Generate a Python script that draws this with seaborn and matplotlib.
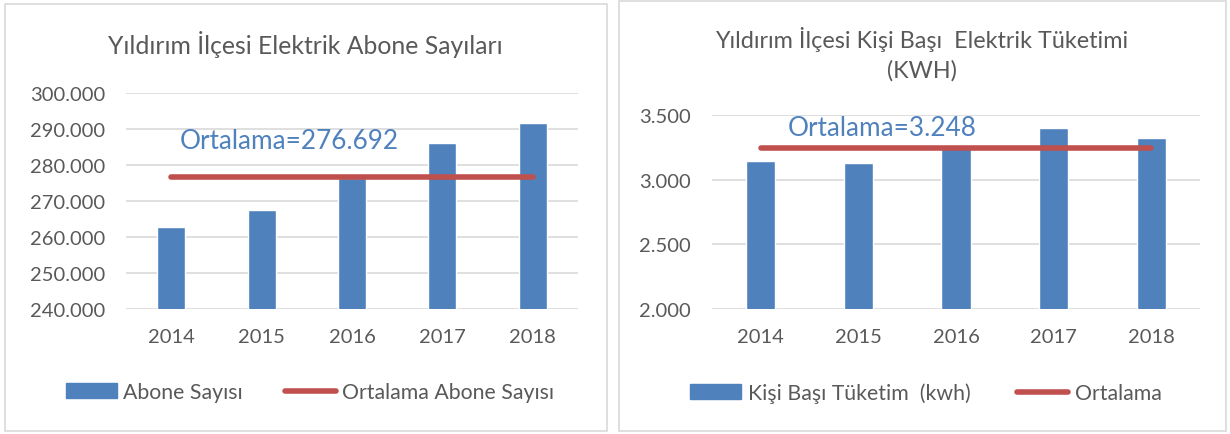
import seaborn as sns
import matplotlib.pyplot as plt
import numpy as np
from matplotlib.patches import Patch, Rectangle
from matplotlib.lines import Line2D
from matplotlib.ticker import FuncFormatter

# Values
years = ['2014', '2015', '2016', '2017', '2018']
abone = [262900, 267500, 276300, 286100, 291750]
abone_avg = [276692, 276692, 276692, 276692, 276692]
tuketim = [3147, 3129, 3247, 3397, 3320]
tuketim_avg = [3248, 3248, 3248, 3248, 3248]

BLUE = '#4F81BD'
RED = '#C0504D'
GRID = '#D9D9D9'
TXT = '#595959'

sns.set_style("white")
plt.rcParams['font.family'] = ['Lato', 'DejaVu Sans']

fig = plt.figure(figsize=(12.3, 4.35), dpi=100)
W, H = 1230, 435


def px_axes(x0, x1, ytop, ybot):
    return fig.add_axes([x0 / W, 1 - ybot / H, (x1 - x0) / W, (ybot - ytop) / H])


def dotted(v, pos):
    return f"{v:,.0f}".replace(',', '.')


def style(ax, lo, hi, step):
    ax.set_ylim(lo, hi)
    ax.set_xlim(-0.5, 4.5)
    ax.set_yticks(np.arange(lo, hi + step / 2, step))
    ax.yaxis.set_major_formatter(FuncFormatter(dotted))
    ax.grid(axis='y', color=GRID, linewidth=1.2)
    ax.set_axisbelow(True)
    for s in ax.spines.values():
        s.set_visible(False)
    ax.tick_params(axis='y', length=0, pad=15, labelsize=14.5, labelcolor=TXT)
    ax.tick_params(axis='x', length=0, pad=14, labelsize=14.5, labelcolor=TXT)
    ax.set_xlabel('')
    ax.set_ylabel('')


# panel borders
fig.patches.append(Rectangle((5 / W, 3 / H), 602 / W, 427 / H, transform=fig.transFigure,
                             fill=False, edgecolor=GRID, linewidth=1.2))
fig.patches.append(Rectangle((619 / W, 3 / H), 607 / W, 430 / H, transform=fig.transFigure,
                             fill=False, edgecolor=GRID, linewidth=1.2))

# Left chart
ax1 = px_axes(126, 578, 94, 310)
sns.barplot(x=years, y=abone, color=BLUE, width=0.31, saturation=1, ax=ax1)
sns.lineplot(x=np.arange(len(years)), y=abone_avg, color=RED, linewidth=4, ax=ax1)
style(ax1, 240000, 300000, 10000)
ax1.set_xticks(range(len(years)))
ax1.set_xticklabels(years)
ax1.text(0.1, 286700, 'Ortalama=276.692', color=BLUE, fontsize=18.8, ha='left', va='center')
fig.text(305 / W, 1 - 45 / H, 'Yıldırım İlçesi Elektrik Abone Sayıları', color=TXT,
         fontsize=17.8, ha='center', va='center')
ax1.legend([Patch(color=BLUE), Line2D([], [], color=RED, linewidth=4)],
           ['Abone Sayısı', 'Ortalama Abone Sayısı'], loc='center',
           bbox_to_anchor=(310 / W, 1 - 393 / H), bbox_transform=fig.transFigure,
           ncol=2, frameon=False, fontsize=15.3, labelcolor=TXT, handlelength=2.4,
           handleheight=0.7, handletextpad=0.3, columnspacing=2.0)

# Right chart
ax2 = px_axes(712, 1200, 116, 310)
sns.barplot(x=years, y=tuketim, color=BLUE, width=0.30, saturation=1, ax=ax2)
sns.lineplot(x=np.arange(len(years)), y=tuketim_avg, color=RED, linewidth=4, ax=ax2)
style(ax2, 2000, 3500, 500)
ax2.set_xticks(range(len(years)))
ax2.set_xticklabels(years)
ax2.text(0.28, 3407, 'Ortalama=3.248', color=BLUE, fontsize=18.8, ha='left', va='center')
fig.text(922 / W, 1 - 54 / H, 'Yıldırım İlçesi Kişi Başı  Elektrik Tüketimi\n(KWH)', color=TXT,
         fontsize=16.8, ha='center', va='center', linespacing=1.45)
ax2.legend([Patch(color=BLUE), Line2D([], [], color=RED, linewidth=4)],
           ['Kişi Başı Tüketim  (kwh)', 'Ortalama'], loc='center',
           bbox_to_anchor=(926 / W, 1 - 394 / H), bbox_transform=fig.transFigure,
           ncol=2, frameon=False, fontsize=15.3, labelcolor=TXT, handlelength=2.4,
           handleheight=0.7, handletextpad=0.3, columnspacing=2.2)

fig.savefig('out.png', dpi=100, facecolor='white')
plt.close(fig)
